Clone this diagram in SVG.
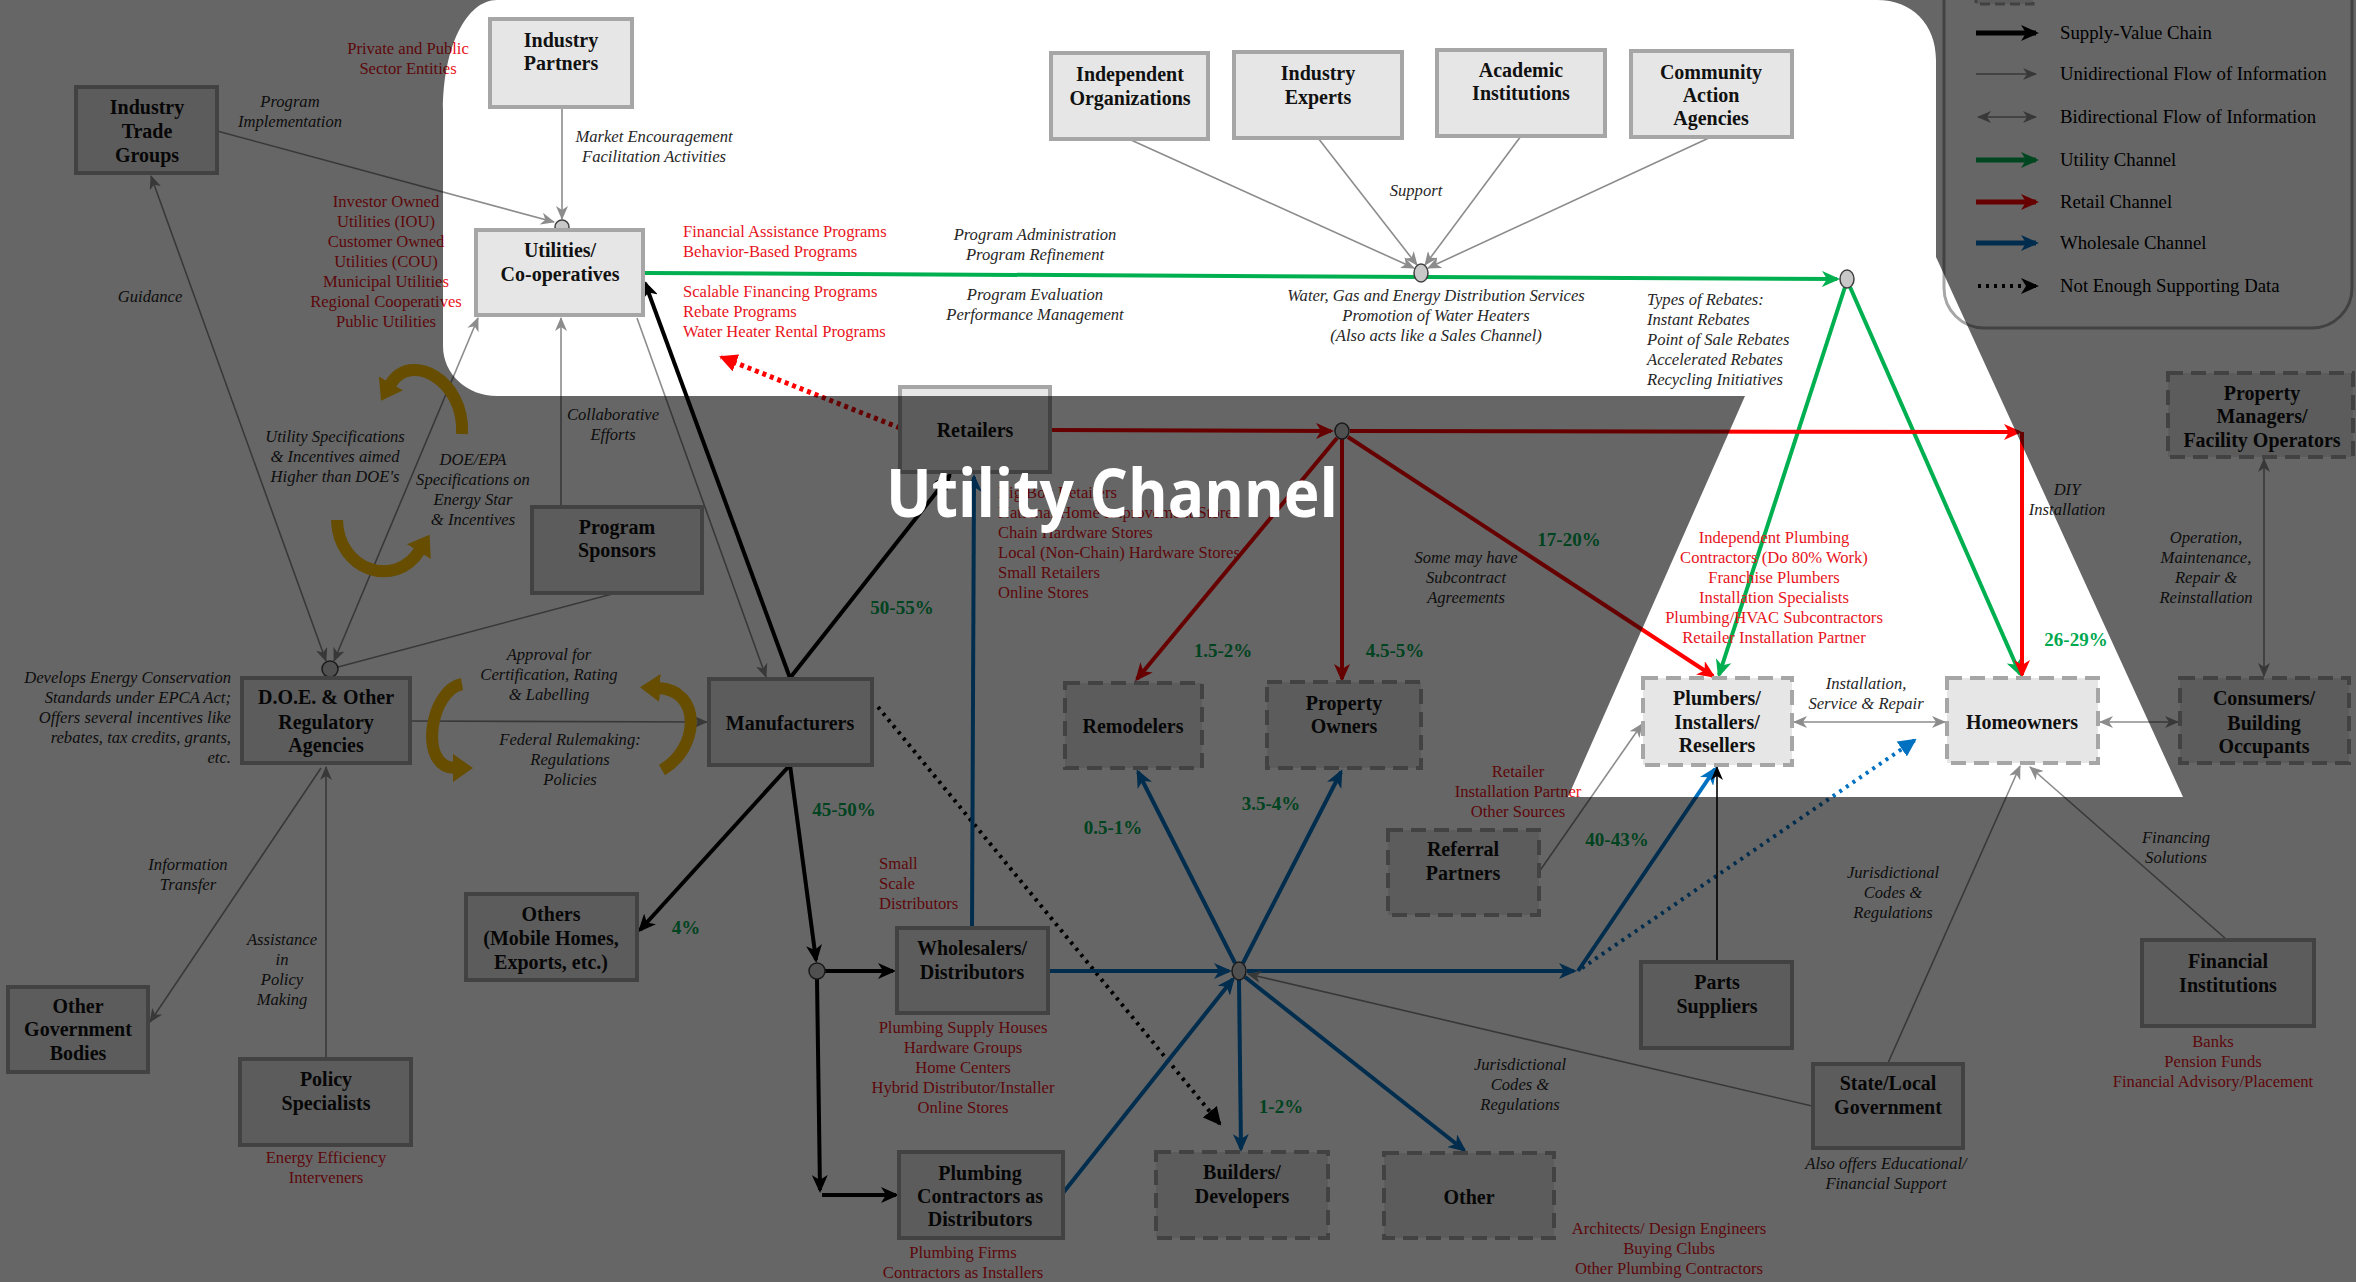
<svg xmlns="http://www.w3.org/2000/svg" width="2356" height="1282" viewBox="0 0 2356 1282">
<defs>
<style>
.n{fill:#e6e6e6;stroke:#a6a6a6;stroke-width:4}
.d{stroke-dasharray:15 8}
.lbl{font-family:"Liberation Serif",serif;font-weight:bold;font-size:20px;text-anchor:middle;fill:#111}
.red{font-family:"Liberation Serif",serif;font-size:16.6px;fill:#e8141c}
.it{font-family:"Liberation Serif",serif;font-style:italic;font-size:16.6px;fill:#262626}
.pct{font-family:"Liberation Serif",serif;font-weight:bold;font-size:19px;fill:#00a850;text-anchor:middle}
.lg{font-family:"Liberation Serif",serif;font-size:18.8px;fill:#000}
.c{text-anchor:middle}
.e{text-anchor:end}
.g{stroke:#00b050;stroke-width:4;fill:none}
.r{stroke:#ff0000;stroke-width:4;fill:none}
.k{stroke:#000;stroke-width:4;fill:none}
.b{stroke:#0070c0;stroke-width:4;fill:none}
.i{stroke:#8c8c8c;stroke-width:1.6;fill:none}
.kt{stroke:#000;stroke-width:1.6;fill:none}
.rd{stroke:#ff0000;stroke-width:5;stroke-dasharray:4 4;fill:none}
.kd{stroke:#000;stroke-width:4;stroke-dasharray:3 5;fill:none}
.bd{stroke:#0070c0;stroke-width:4;stroke-dasharray:3 5;fill:none}
.y{stroke:#ffc000;stroke-width:12;fill:none}
.j{fill:#c8c8c8;stroke:#404040;stroke-width:1.5}
</style>
<marker id="mk" viewBox="0 0 18 16" refX="15" refY="8" markerWidth="18" markerHeight="16" markerUnits="userSpaceOnUse" orient="auto-start-reverse"><path d="M0,0 L18,8 L0,16 L5,8 Z" fill="#000"/></marker>
<marker id="mg" viewBox="0 0 18 16" refX="15" refY="8" markerWidth="18" markerHeight="16" markerUnits="userSpaceOnUse" orient="auto-start-reverse"><path d="M0,0 L18,8 L0,16 L5,8 Z" fill="#00b050"/></marker>
<marker id="mr" viewBox="0 0 18 16" refX="15" refY="8" markerWidth="18" markerHeight="16" markerUnits="userSpaceOnUse" orient="auto-start-reverse"><path d="M0,0 L18,8 L0,16 L5,8 Z" fill="#ff0000"/></marker>
<marker id="mb" viewBox="0 0 18 16" refX="15" refY="8" markerWidth="18" markerHeight="16" markerUnits="userSpaceOnUse" orient="auto-start-reverse"><path d="M0,0 L18,8 L0,16 L5,8 Z" fill="#0070c0"/></marker>
<marker id="mi" viewBox="0 0 14 12" refX="13" refY="6" markerWidth="14" markerHeight="12" markerUnits="userSpaceOnUse" orient="auto-start-reverse"><path d="M0,0 L14,6 L0,12 L4,6 Z" fill="#8c8c8c"/></marker>
<marker id="mkt" viewBox="0 0 14 12" refX="13" refY="6" markerWidth="14" markerHeight="12" markerUnits="userSpaceOnUse" orient="auto-start-reverse"><path d="M0,0 L14,6 L0,12 L4,6 Z" fill="#000"/></marker>
<marker id="tk" viewBox="0 0 18 18" refX="16" refY="9" markerWidth="18" markerHeight="18" markerUnits="userSpaceOnUse" orient="auto"><path d="M0,0 L18,9 L0,18 Z" fill="#000"/></marker>
<marker id="tr" viewBox="0 0 18 18" refX="16" refY="9" markerWidth="18" markerHeight="18" markerUnits="userSpaceOnUse" orient="auto"><path d="M0,0 L18,9 L0,18 Z" fill="#ff0000"/></marker>
<marker id="tb" viewBox="0 0 18 18" refX="16" refY="9" markerWidth="18" markerHeight="18" markerUnits="userSpaceOnUse" orient="auto"><path d="M0,0 L18,9 L0,18 Z" fill="#0070c0"/></marker>
<marker id="my" viewBox="0 0 20 28" refX="2" refY="14" markerWidth="20" markerHeight="28" markerUnits="userSpaceOnUse" orient="auto"><path d="M0,0 L20,14 L0,28 Z" fill="#ffc000"/></marker>
</defs>

<rect width="2356" height="1282" fill="#fff"/>

<!-- legend panel -->
<g id="legend">
<rect x="1944" y="-40" width="408" height="368" rx="40" fill="#fff" stroke="#a6a6a6" stroke-width="3"/>
<rect x="1976" y="-16" width="57" height="20" fill="#e6e6e6" stroke="#a6a6a6" stroke-width="3" stroke-dasharray="10 5"/>
<line x1="1976" y1="33" x2="2036" y2="33" stroke="#000" stroke-width="5" marker-end="url(#mk)"/>
<line x1="1976" y1="74" x2="2036" y2="74" class="i" marker-end="url(#mi)"/>
<line x1="1978" y1="117" x2="2036" y2="117" class="i" marker-start="url(#mi)" marker-end="url(#mi)"/>
<line x1="1976" y1="160" x2="2036" y2="160" stroke="#00b050" stroke-width="5" marker-end="url(#mg)"/>
<line x1="1976" y1="202" x2="2036" y2="202" stroke="#ff0000" stroke-width="5" marker-end="url(#mr)"/>
<line x1="1976" y1="243" x2="2036" y2="243" stroke="#0070c0" stroke-width="5" marker-end="url(#mb)"/>
<line x1="1978" y1="286" x2="2036" y2="286" class="kd" marker-end="url(#mk)"/>
<text class="lg" x="2060" y="39">Supply-Value Chain</text>
<text class="lg" x="2060" y="80">Unidirectional Flow of Information</text>
<text class="lg" x="2060" y="123">Bidirectional Flow of Information</text>
<text class="lg" x="2060" y="166">Utility Channel</text>
<text class="lg" x="2060" y="208">Retail Channel</text>
<text class="lg" x="2060" y="249">Wholesale Channel</text>
<text class="lg" x="2060" y="292">Not Enough Supporting Data</text>
</g>

<!-- connectors -->
<g id="connectors">
<!-- utility channel -->
<line class="g" x1="645" y1="273" x2="1837" y2="279" marker-end="url(#mg)"/>
<line class="g" x1="1845" y1="287" x2="1719" y2="675" marker-end="url(#mg)"/>
<line class="g" x1="1850" y1="287" x2="2020" y2="674" marker-end="url(#mg)"/>
<!-- retail channel -->
<line class="r" x1="1050" y1="430" x2="1331" y2="431" marker-end="url(#mr)"/>
<line class="r" x1="1350" y1="431" x2="2019" y2="432" marker-end="url(#mr)"/>
<line class="r" x1="2022" y1="432" x2="2022" y2="675" marker-end="url(#mr)"/>
<line class="r" x1="1337" y1="438" x2="1137" y2="679" marker-end="url(#mr)"/>
<line class="r" x1="1342" y1="439" x2="1342" y2="679" marker-end="url(#mr)"/>
<line class="r" x1="1348" y1="437" x2="1713" y2="676" marker-end="url(#mr)"/>
<line class="rd" x1="900" y1="428" x2="721" y2="357" marker-end="url(#tr)"/>
<!-- supply-value chain -->
<line class="k" x1="790" y1="678" x2="645" y2="283" marker-end="url(#mk)"/>
<line class="k" x1="790" y1="678" x2="950" y2="475" marker-end="url(#mk)"/>
<line class="k" x1="790" y1="765" x2="640" y2="930" marker-end="url(#mk)"/>
<line class="k" x1="790" y1="765" x2="816" y2="960" marker-end="url(#mk)"/>
<line class="k" x1="825" y1="971" x2="893" y2="971" marker-end="url(#mk)"/>
<line class="k" x1="817" y1="979" x2="820" y2="1190" marker-end="url(#mk)"/>
<line class="k" x1="822" y1="1195" x2="896" y2="1195" marker-end="url(#mk)"/>
<line class="kd" x1="878" y1="707" x2="1220" y2="1124" marker-end="url(#tk)"/>
<!-- wholesale channel -->
<line class="b" x1="972" y1="928" x2="974" y2="477" marker-end="url(#mb)"/>
<line class="b" x1="1048" y1="971" x2="1229" y2="971" marker-end="url(#mb)"/>
<line class="b" x1="1063" y1="1193" x2="1233" y2="979" marker-end="url(#mb)"/>
<line class="b" x1="1235" y1="963" x2="1138" y2="772" marker-end="url(#mb)"/>
<line class="b" x1="1243" y1="963" x2="1341" y2="772" marker-end="url(#mb)"/>
<line class="b" x1="1239" y1="980" x2="1241" y2="1149" marker-end="url(#mb)"/>
<line class="b" x1="1245" y1="977" x2="1464" y2="1150" marker-end="url(#mb)"/>
<line class="b" x1="1247" y1="971" x2="1574" y2="971" marker-end="url(#mb)"/>
<line class="b" x1="1578" y1="971" x2="1715" y2="769" marker-end="url(#mb)"/>
<line class="bd" x1="1582" y1="968" x2="1915" y2="740" marker-end="url(#tb)"/>
<!-- information flows -->
<line class="i" x1="217" y1="131" x2="554" y2="222" marker-end="url(#mi)"/>
<line class="i" x1="562" y1="107" x2="562" y2="219" marker-end="url(#mi)"/>
<line class="i" x1="151" y1="176" x2="326" y2="661" marker-start="url(#mi)" marker-end="url(#mi)"/>
<line class="i" x1="478" y1="318" x2="334" y2="661" marker-start="url(#mi)" marker-end="url(#mi)"/>
<line class="i" x1="616" y1="593" x2="338" y2="667"/>
<line class="i" x1="561" y1="507" x2="561" y2="318" marker-end="url(#mi)"/>
<line class="i" x1="637" y1="318" x2="766" y2="677" marker-end="url(#mi)"/>
<line class="i" x1="410" y1="721" x2="707" y2="722" marker-end="url(#mi)"/>
<line class="i" x1="326" y1="1059" x2="326" y2="767" marker-end="url(#mi)"/>
<line class="i" x1="321" y1="768" x2="150" y2="1022" marker-end="url(#mi)"/>
<line class="i" x1="1131" y1="140" x2="1414" y2="268" marker-end="url(#mi)"/>
<line class="i" x1="1318" y1="138" x2="1417" y2="265" marker-end="url(#mi)"/>
<line class="i" x1="1521" y1="136" x2="1425" y2="265" marker-end="url(#mi)"/>
<line class="i" x1="1711" y1="137" x2="1428" y2="268" marker-end="url(#mi)"/>
<line class="i" x1="1539" y1="872" x2="1642" y2="724" marker-end="url(#mi)"/>
<line class="kt" x1="1717" y1="962" x2="1717" y2="767" marker-end="url(#mkt)"/>
<line class="i" x1="1794" y1="722" x2="1945" y2="722" marker-start="url(#mi)" marker-end="url(#mi)"/>
<line class="i" x1="2100" y1="722" x2="2178" y2="722" marker-start="url(#mi)" marker-end="url(#mi)"/>
<line class="i" x1="2264" y1="459" x2="2264" y2="676" marker-start="url(#mi)" marker-end="url(#mi)"/>
<line class="i" x1="1888" y1="1063" x2="2020" y2="766" marker-end="url(#mi)"/>
<line class="i" x1="2226" y1="939" x2="2030" y2="767" marker-end="url(#mi)"/>
<line class="i" x1="1812" y1="1106" x2="1248" y2="974" marker-end="url(#mi)"/>
<!-- cycle arrows -->
<path class="y" d="M462,434 C465,380 410,350 390,385" marker-end="url(#my)"/>
<path class="y" d="M337,520 C338,570 395,590 420,550" marker-end="url(#my)"/>
<path class="y" d="M462,684 C430,690 418,768 455,768" marker-end="url(#my)"/>
<path class="y" d="M662,770 C700,748 702,690 658,688" marker-end="url(#my)"/>
<!-- junctions -->
<circle class="j" cx="562" cy="227" r="7"/>
<circle class="j" cx="330" cy="669" r="8"/>
<ellipse class="j" cx="1421" cy="273" rx="7" ry="9"/>
<ellipse class="j" cx="1847" cy="279" rx="7" ry="9"/>
<ellipse class="j" cx="1342" cy="431" rx="7" ry="8"/>
<circle class="j" cx="817" cy="971" r="8"/>
<ellipse class="j" cx="1239" cy="971" rx="7" ry="9"/>
</g>

<!-- nodes -->
<g id="industry-partners"><rect class="n" x="490" y="19" width="142" height="88"/><text class="lbl" x="561" y="47">Industry</text><text class="lbl" x="561" y="70">Partners</text></g>
<g id="utilities"><rect class="n" x="476" y="230" width="167" height="85"/><text class="lbl" x="560" y="257">Utilities/</text><text class="lbl" x="560" y="281">Co-operatives</text></g>
<g id="trade-groups"><rect class="n" x="76" y="87" width="141" height="86"/><text class="lbl" x="147" y="114">Industry</text><text class="lbl" x="147" y="138">Trade</text><text class="lbl" x="147" y="162">Groups</text></g>
<g id="independent-orgs"><rect class="n" x="1051" y="53" width="157" height="86"/><text class="lbl" x="1130" y="81">Independent</text><text class="lbl" x="1130" y="105">Organizations</text></g>
<g id="industry-experts"><rect class="n" x="1234" y="52" width="168" height="86"/><text class="lbl" x="1318" y="80">Industry</text><text class="lbl" x="1318" y="104">Experts</text></g>
<g id="academic"><rect class="n" x="1437" y="50" width="168" height="86"/><text class="lbl" x="1521" y="77">Academic</text><text class="lbl" x="1521" y="100">Institutions</text></g>
<g id="community"><rect class="n" x="1631" y="51" width="161" height="86"/><text class="lbl" x="1711" y="79">Community</text><text class="lbl" x="1711" y="102">Action</text><text class="lbl" x="1711" y="125">Agencies</text></g>
<g id="retailers"><rect class="n" x="900" y="387" width="150" height="85"/><text class="lbl" x="975" y="437">Retailers</text></g>
<g id="program-sponsors"><rect class="n" x="532" y="507" width="170" height="86"/><text class="lbl" x="617" y="534">Program</text><text class="lbl" x="617" y="557">Sponsors</text></g>
<g id="manufacturers"><rect class="n" x="709" y="679" width="163" height="86"/><text class="lbl" x="790" y="730">Manufacturers</text></g>
<g id="remodelers"><rect class="n d" x="1065" y="683" width="137" height="85"/><text class="lbl" x="1133" y="733">Remodelers</text></g>
<g id="property-owners"><rect class="n d" x="1267" y="682" width="154" height="86"/><text class="lbl" x="1344" y="710">Property</text><text class="lbl" x="1344" y="733">Owners</text></g>
<g id="plumbers"><rect class="n d" x="1643" y="678" width="149" height="87"/><text class="lbl" x="1717" y="705">Plumbers/</text><text class="lbl" x="1717" y="729">Installers/</text><text class="lbl" x="1717" y="752">Resellers</text></g>
<g id="homeowners"><rect class="n d" x="1947" y="678" width="151" height="85"/><text class="lbl" x="2022" y="729">Homeowners</text></g>
<g id="consumers"><rect class="n d" x="2180" y="678" width="169" height="85"/><text class="lbl" x="2264" y="705">Consumers/</text><text class="lbl" x="2264" y="730">Building</text><text class="lbl" x="2264" y="753">Occupants</text></g>
<g id="property-managers"><rect class="n d" x="2168" y="373" width="185" height="84"/><text class="lbl" x="2262" y="400">Property</text><text class="lbl" x="2262" y="423">Managers/</text><text class="lbl" x="2262" y="447">Facility Operators</text></g>
<g id="doe"><rect class="n" x="242" y="678" width="168" height="85"/><text class="lbl" x="326" y="704">D.O.E. &amp; Other</text><text class="lbl" x="326" y="729">Regulatory</text><text class="lbl" x="326" y="752">Agencies</text></g>
<g id="others"><rect class="n" x="466" y="894" width="171" height="86"/><text class="lbl" x="551" y="921">Others</text><text class="lbl" x="551" y="945">(Mobile Homes,</text><text class="lbl" x="551" y="969">Exports, etc.)</text></g>
<g id="other-government"><rect class="n" x="8" y="987" width="140" height="85"/><text class="lbl" x="78" y="1013">Other</text><text class="lbl" x="78" y="1036">Government</text><text class="lbl" x="78" y="1060">Bodies</text></g>
<g id="policy-specialists"><rect class="n" x="240" y="1059" width="171" height="86"/><text class="lbl" x="326" y="1086">Policy</text><text class="lbl" x="326" y="1110">Specialists</text></g>
<g id="wholesalers"><rect class="n" x="897" y="928" width="151" height="85"/><text class="lbl" x="972" y="955">Wholesalers/</text><text class="lbl" x="972" y="979">Distributors</text></g>
<g id="plumbing-contractors"><rect class="n" x="899" y="1152" width="164" height="86"/><text class="lbl" x="980" y="1180">Plumbing</text><text class="lbl" x="980" y="1203">Contractors as</text><text class="lbl" x="980" y="1226">Distributors</text></g>
<g id="builders"><rect class="n d" x="1156" y="1152" width="172" height="86"/><text class="lbl" x="1242" y="1179">Builders/</text><text class="lbl" x="1242" y="1203">Developers</text></g>
<g id="other"><rect class="n d" x="1384" y="1153" width="170" height="85"/><text class="lbl" x="1469" y="1204">Other</text></g>
<g id="referral-partners"><rect class="n d" x="1388" y="830" width="151" height="85"/><text class="lbl" x="1463" y="856">Referral</text><text class="lbl" x="1463" y="880">Partners</text></g>
<g id="parts-suppliers"><rect class="n" x="1641" y="962" width="151" height="86"/><text class="lbl" x="1717" y="989">Parts</text><text class="lbl" x="1717" y="1013">Suppliers</text></g>
<g id="state-local"><rect class="n" x="1813" y="1064" width="150" height="84"/><text class="lbl" x="1888" y="1090">State/Local</text><text class="lbl" x="1888" y="1114">Government</text></g>
<g id="financial-institutions"><rect class="n" x="2142" y="940" width="172" height="86"/><text class="lbl" x="2228" y="968">Financial</text><text class="lbl" x="2228" y="992">Institutions</text></g>

<!-- annotations: member lists -->
<g id="member-lists">
<text class="red c" x="408" y="54">Private and Public</text>
<text class="red c" x="408" y="74">Sector Entities</text>
<text class="red c" x="386" y="207">Investor Owned</text>
<text class="red c" x="386" y="227">Utilities (IOU)</text>
<text class="red c" x="386" y="247">Customer Owned</text>
<text class="red c" x="386" y="267">Utilities (COU)</text>
<text class="red c" x="386" y="287">Municipal Utilities</text>
<text class="red c" x="386" y="307">Regional Cooperatives</text>
<text class="red c" x="386" y="327">Public Utilities</text>
<text class="red" x="683" y="237">Financial Assistance Programs</text>
<text class="red" x="683" y="257">Behavior-Based Programs</text>
<text class="red" x="683" y="297">Scalable Financing Programs</text>
<text class="red" x="683" y="317">Rebate Programs</text>
<text class="red" x="683" y="337">Water Heater Rental Programs</text>
<text class="red" x="998" y="498">Big Box Retailers</text>
<text class="red" x="998" y="518">National Home Improvement Stores</text>
<text class="red" x="998" y="538">Chain Hardware Stores</text>
<text class="red" x="998" y="558">Local (Non-Chain) Hardware Stores</text>
<text class="red" x="998" y="578">Small Retailers</text>
<text class="red" x="998" y="598">Online Stores</text>
<text class="red c" x="1774" y="543">Independent Plumbing</text>
<text class="red c" x="1774" y="563">Contractors (Do 80% Work)</text>
<text class="red c" x="1774" y="583">Franchise Plumbers</text>
<text class="red c" x="1774" y="603">Installation Specialists</text>
<text class="red c" x="1774" y="623">Plumbing/HVAC Subcontractors</text>
<text class="red c" x="1774" y="643">Retailer Installation Partner</text>
<text class="red c" x="1518" y="777">Retailer</text>
<text class="red c" x="1518" y="797">Installation Partner</text>
<text class="red c" x="1518" y="817">Other Sources</text>
<text class="red" x="879" y="869">Small</text>
<text class="red" x="879" y="889">Scale</text>
<text class="red" x="879" y="909">Distributors</text>
<text class="red c" x="963" y="1033">Plumbing Supply Houses</text>
<text class="red c" x="963" y="1053">Hardware Groups</text>
<text class="red c" x="963" y="1073">Home Centers</text>
<text class="red c" x="963" y="1093">Hybrid Distributor/Installer</text>
<text class="red c" x="963" y="1113">Online Stores</text>
<text class="red c" x="963" y="1258">Plumbing Firms</text>
<text class="red c" x="963" y="1278">Contractors as Installers</text>
<text class="red c" x="1669" y="1234">Architects/ Design Engineers</text>
<text class="red c" x="1669" y="1254">Buying Clubs</text>
<text class="red c" x="1669" y="1274">Other Plumbing Contractors</text>
<text class="red c" x="326" y="1163">Energy Efficiency</text>
<text class="red c" x="326" y="1183">Interveners</text>
<text class="red c" x="2213" y="1047">Banks</text>
<text class="red c" x="2213" y="1067">Pension Funds</text>
<text class="red c" x="2213" y="1087">Financial Advisory/Placement</text>
</g>

<!-- annotations: flow labels -->
<g id="flow-labels">
<text class="it c" x="290" y="107">Program</text>
<text class="it c" x="290" y="127">Implementation</text>
<text class="it c" x="654" y="142">Market Encouragement</text>
<text class="it c" x="654" y="162">Facilitation Activities</text>
<text class="it c" x="150" y="302">Guidance</text>
<text class="it c" x="1035" y="240">Program Administration</text>
<text class="it c" x="1035" y="260">Program Refinement</text>
<text class="it c" x="1035" y="300">Program Evaluation</text>
<text class="it c" x="1035" y="320">Performance Management</text>
<text class="it c" x="1416" y="196">Support</text>
<text class="it c" x="1436" y="301">Water, Gas and Energy Distribution Services</text>
<text class="it c" x="1436" y="321">Promotion of Water Heaters</text>
<text class="it c" x="1436" y="341">(Also acts like a Sales Channel)</text>
<text class="it" x="1647" y="305">Types of Rebates:</text>
<text class="it" x="1647" y="325">Instant Rebates</text>
<text class="it" x="1647" y="345">Point of Sale Rebates</text>
<text class="it" x="1647" y="365">Accelerated Rebates</text>
<text class="it" x="1647" y="385">Recycling Initiatives</text>
<text class="it c" x="613" y="420">Collaborative</text>
<text class="it c" x="613" y="440">Efforts</text>
<text class="it c" x="335" y="442">Utility Specifications</text>
<text class="it c" x="335" y="462">&amp; Incentives aimed</text>
<text class="it c" x="335" y="482">Higher than DOE's</text>
<text class="it c" x="473" y="465">DOE/EPA</text>
<text class="it c" x="473" y="485">Specifications on</text>
<text class="it c" x="473" y="505">Energy Star</text>
<text class="it c" x="473" y="525">&amp; Incentives</text>
<text class="it e" x="231" y="683">Develops Energy Conservation</text>
<text class="it e" x="231" y="703">Standards under EPCA Act;</text>
<text class="it e" x="231" y="723">Offers several incentives like</text>
<text class="it e" x="231" y="743">rebates, tax credits, grants,</text>
<text class="it e" x="231" y="763">etc.</text>
<text class="it c" x="549" y="660">Approval for</text>
<text class="it c" x="549" y="680">Certification, Rating</text>
<text class="it c" x="549" y="700">&amp; Labelling</text>
<text class="it c" x="570" y="745">Federal Rulemaking:</text>
<text class="it c" x="570" y="765">Regulations</text>
<text class="it c" x="570" y="785">Policies</text>
<text class="it c" x="188" y="870">Information</text>
<text class="it c" x="188" y="890">Transfer</text>
<text class="it c" x="282" y="945">Assistance</text>
<text class="it c" x="282" y="965">in</text>
<text class="it c" x="282" y="985">Policy</text>
<text class="it c" x="282" y="1005">Making</text>
<text class="it c" x="1466" y="563">Some may have</text>
<text class="it c" x="1466" y="583">Subcontract</text>
<text class="it c" x="1466" y="603">Agreements</text>
<text class="it c" x="2067" y="495">DIY</text>
<text class="it c" x="2067" y="515">Installation</text>
<text class="it c" x="1866" y="689">Installation,</text>
<text class="it c" x="1866" y="709">Service &amp; Repair</text>
<text class="it c" x="2206" y="543">Operation,</text>
<text class="it c" x="2206" y="563">Maintenance,</text>
<text class="it c" x="2206" y="583">Repair &amp;</text>
<text class="it c" x="2206" y="603">Reinstallation</text>
<text class="it c" x="2176" y="843">Financing</text>
<text class="it c" x="2176" y="863">Solutions</text>
<text class="it c" x="1520" y="1070">Jurisdictional</text>
<text class="it c" x="1520" y="1090">Codes &amp;</text>
<text class="it c" x="1520" y="1110">Regulations</text>
<text class="it c" x="1893" y="878">Jurisdictional</text>
<text class="it c" x="1893" y="898">Codes &amp;</text>
<text class="it c" x="1893" y="918">Regulations</text>
<text class="it c" x="1886" y="1169">Also offers Educational/</text>
<text class="it c" x="1886" y="1189">Financial Support</text>
</g>

<!-- market shares -->
<g id="shares">
<text class="pct" x="902" y="614">50-55%</text>
<text class="pct" x="844" y="816">45-50%</text>
<text class="pct" x="1113" y="834">0.5-1%</text>
<text class="pct" x="1223" y="657">1.5-2%</text>
<text class="pct" x="1395" y="657">4.5-5%</text>
<text class="pct" x="1569" y="546">17-20%</text>
<text class="pct" x="1271" y="810">3.5-4%</text>
<text class="pct" x="1617" y="846">40-43%</text>
<text class="pct" x="2076" y="646">26-29%</text>
<text class="pct" x="686" y="934">4%</text>
<text class="pct" x="1281" y="1113">1-2%</text>
</g>

<!-- dimming layer with the utility channel cut-out -->
<path id="spotlight" fill="#000" fill-opacity="0.6" fill-rule="evenodd" d="M0,0H2356V1282H0Z M497,0 L1877,0 C1912,0 1936,24 1936,60 L1936,257 L2183,797 L1568,797 L1745,396 L497,396 C467,396 443,374 443,346 L443,110 C443,48 466,0 497,0 Z"/>

<text id="title" x="886" y="517" textLength="452" lengthAdjust="spacingAndGlyphs" font-family="'Open Sans',sans-serif" font-weight="700" font-size="66" fill="#fff">Utility Channel</text>
</svg>
